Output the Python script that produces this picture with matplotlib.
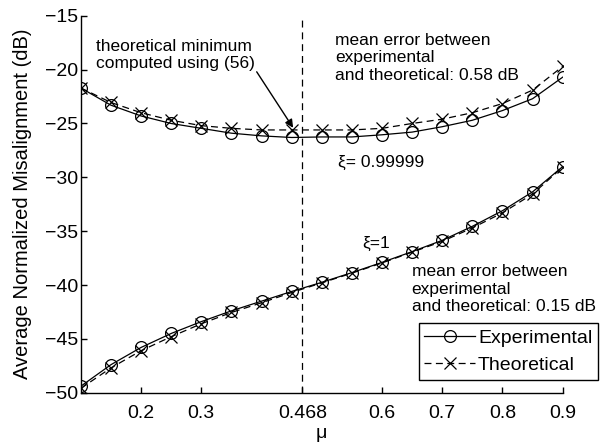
import matplotlib
matplotlib.use("Agg")
import matplotlib.pyplot as plt

plt.rcParams['font.family'] = ['Liberation Sans', 'DejaVu Sans']
plt.rcParams['lines.scale_dashes'] = False
plt.rcParams['axes.unicode_minus'] = True

# step size values
mu = [0.10, 0.15, 0.20, 0.25, 0.30, 0.35, 0.40, 0.45, 0.50,
      0.55, 0.60, 0.65, 0.70, 0.75, 0.80, 0.85, 0.90]

# xi = 0.99999
upper_exp = [-21.7, -23.3, -24.3, -25.0, -25.45, -25.9, -26.15, -26.3, -26.25,
             -26.25, -26.05, -25.8, -25.3, -24.7, -23.8, -22.7, -20.7]
upper_theo = [-21.7, -23.05, -24.0, -24.7, -25.2, -25.45, -25.6, -25.6, -25.6,
              -25.6, -25.45, -25.0, -24.6, -24.0, -23.15, -21.9, -19.7]

# xi = 1
lower_exp = [-49.4, -47.4, -45.8, -44.5, -43.4, -42.4, -41.5, -40.6, -39.75,
             -38.85, -37.9, -36.9, -35.85, -34.55, -33.1, -31.35, -29.0]
lower_theo = [-49.6, -47.7, -46.1, -44.8, -43.6, -42.55, -41.65, -40.7, -39.8,
              -38.9, -37.95, -36.95, -35.95, -34.7, -33.3, -31.55, -29.05]

mu_opt = 0.468
xticks = [0.2, 0.3, 0.468, 0.6, 0.7, 0.8, 0.9]
xtick_labels = ['0.2', '0.3', '0.468', '0.6', '0.7', '0.8', '0.9']
yticks = [-50, -45, -40, -35, -30, -25, -20, -15]

W, H = 605, 442
fig = plt.figure(figsize=(W / 100, H / 100), dpi=100)
ax = fig.add_axes([80.8 / W, 1 - 392.7 / H, (562.7 - 80.8) / W, (392.7 - 15.8) / H])

dash = (0, (5.0, 3.2))
lw = 0.9
exp_style = dict(color='black', lw=lw, ls='-', marker='o', ms=8.5,
                 mfc='none', mec='black', mew=lw)
theo_style = dict(color='black', lw=lw, ls=dash, marker='x', ms=8,
                  mec='black', mew=lw)

ax.plot(mu, upper_exp, label='Experimental', **exp_style)
ax.plot(mu, upper_theo, label='Theoretical', **theo_style)
ax.plot(mu, lower_exp, **exp_style)
ax.plot(mu, lower_theo, **theo_style)

ax.axvline(mu_opt, color='black', lw=lw, ls=(0, (5.0, 3.5)))

ax.set_xlim(0.1, 0.9)
ax.set_ylim(-50, -15)
ax.set_xticks(xticks)
ax.set_xticklabels(xtick_labels)
ax.set_yticks(yticks)

for side in ('top', 'right'):
    ax.spines[side].set_visible(False)
for side in ('left', 'bottom'):
    ax.spines[side].set_linewidth(1.0)

ax.tick_params(axis='both', direction='in', length=4, width=1.0,
               labelsize=14, colors='black')
ax.tick_params(axis='x', pad=9)
ax.tick_params(axis='y', pad=2)

fig.text(23 / W, 1 - 204 / H, 'Average Normalized Misalignment (dB)',
         rotation=90, ha='center', va='center', fontsize=14.5)
fig.text(321.7 / W, 1 - 434 / H, 'μ', ha='center', va='center', fontsize=14)

fs = 12.5
ax.text(0.126, -19.85, 'theoretical minimum\ncomputed using (56)',
        fontsize=fs, ha='left', va='baseline', linespacing=1.2)
ax.annotate('', xy=(0.4525, -25.4), xytext=(0.392, -20.2),
            arrowprops=dict(arrowstyle='-|>', color='black', lw=1.0,
                            mutation_scale=12, shrinkA=0, shrinkB=0))
ax.text(0.522, -18.9, 'mean error between\nexperimental\nand theoretical: 0.58 dB',
        fontsize=fs, ha='left', va='center', linespacing=1.2)
ax.text(0.527, -28.65, 'ξ= 0.99999', fontsize=fs, ha='left', va='center')
ax.text(0.567, -36.1, 'ξ=1', fontsize=fs, ha='left', va='center')
ax.text(0.649, -40.4, 'mean error between\nexperimental\nand theoretical: 0.15 dB',
        fontsize=fs, ha='left', va='center', linespacing=1.2)

leg = ax.legend(loc='lower right', bbox_to_anchor=(598 / W, 1 - 380 / H),
                bbox_transform=fig.transFigure, fontsize=14, frameon=True,
                fancybox=False, edgecolor='black', framealpha=1,
                borderaxespad=0, borderpad=0.3, handlelength=2.6,
                handletextpad=0.15, labelspacing=0.5)
leg.get_frame().set_linewidth(1.0)

fig.savefig('out.png', dpi=100)
